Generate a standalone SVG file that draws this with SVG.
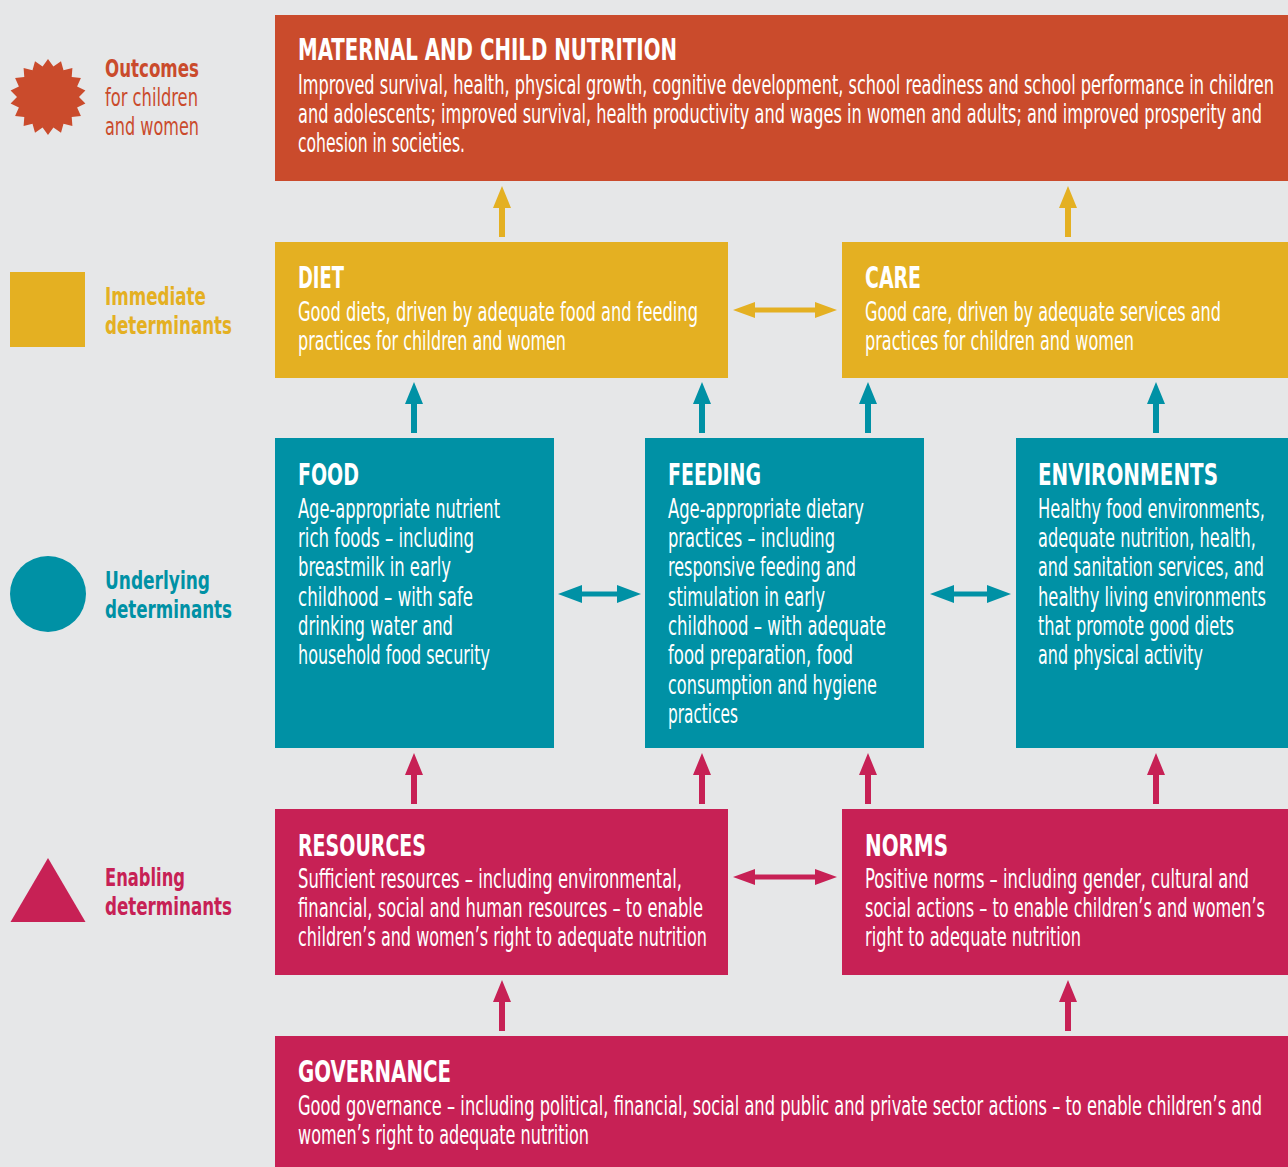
<svg xmlns="http://www.w3.org/2000/svg" xmlns:xlink="http://www.w3.org/1999/xlink" width="1288" height="1167" viewBox="0 0 1288 1167">
<style>
text{font-family:"Liberation Sans Narrow","DejaVu Sans Condensed","Liberation Sans",sans-serif;}
.t{font-size:30px;font-weight:bold;fill:#fff;}
.b{font-size:26px;fill:#fff;}
.lg{font-size:25px;}
.lb{font-weight:bold;}
.or{fill:#ca4b2c;}
.ye{fill:#e4b022;}
.te{fill:#0091a5;}
.ma{fill:#c72155;}
</style>
<defs>
<path id="up" d="M0,0 L9,22 L3,22 L3,51 L-3,51 L-3,22 L-9,22 Z"/>
</defs>
<rect width="1288" height="1167" fill="#e6e7e8"/>

<g id="legend">
<polygon class="or" points="48,59 53.4,66.5 61,61.3 63.5,70.2 72.4,67.9 71.7,77.1 80.9,78 77.1,86.4 85.4,90.4 79,97 85.4,103.6 77.1,107.6 80.9,116 71.7,116.9 72.4,126.1 63.5,123.8 61,132.7 53.4,127.5 48,135 42.6,127.5 35,132.7 32.5,123.8 23.6,126.1 24.3,116.9 15.1,116 18.9,107.6 10.6,103.6 17,97 10.6,90.4 18.9,86.4 15.1,78 24.3,77.1 23.6,67.9 32.5,70.2 35,61.3 42.6,66.5"/>
<text class="lg lb or" x="105" y="77" textLength="94" lengthAdjust="spacingAndGlyphs">Outcomes</text>
<text class="lg or" x="105" y="106" textLength="93" lengthAdjust="spacingAndGlyphs">for children</text>
<text class="lg or" x="105" y="135" textLength="94" lengthAdjust="spacingAndGlyphs">and women</text>
<rect class="ye" x="10" y="272" width="75" height="75"/>
<text class="lg lb ye" x="105" y="305" textLength="101" lengthAdjust="spacingAndGlyphs">Immediate</text>
<text class="lg lb ye" x="105" y="334" textLength="127" lengthAdjust="spacingAndGlyphs">determinants</text>
<circle class="te" cx="48" cy="594" r="38"/>
<text class="lg lb te" x="105" y="589" textLength="105" lengthAdjust="spacingAndGlyphs">Underlying</text>
<text class="lg lb te" x="105" y="618" textLength="127" lengthAdjust="spacingAndGlyphs">determinants</text>
<polygon class="ma" points="48,858 85.5,922 10.5,922"/>
<text class="lg lb ma" x="105" y="886" textLength="80" lengthAdjust="spacingAndGlyphs">Enabling</text>
<text class="lg lb ma" x="105" y="915" textLength="127" lengthAdjust="spacingAndGlyphs">determinants</text>
</g>

<g id="maternal">
<rect class="or" x="275" y="15" width="1013" height="166"/>
<text class="t" x="298" y="60" textLength="379" lengthAdjust="spacingAndGlyphs">MATERNAL AND CHILD NUTRITION</text>
<text class="b" x="298" y="94" textLength="976" lengthAdjust="spacingAndGlyphs">Improved survival, health, physical growth, cognitive development, school readiness and school performance in children</text>
<text class="b" x="298" y="123" textLength="964" lengthAdjust="spacingAndGlyphs">and adolescents; improved survival, health productivity and wages in women and adults; and improved prosperity and</text>
<text class="b" x="298" y="152" textLength="167" lengthAdjust="spacingAndGlyphs">cohesion in societies.</text>
</g>

<g id="diet">
<rect class="ye" x="275" y="242" width="453" height="136"/>
<text class="t" x="298" y="288" textLength="46" lengthAdjust="spacingAndGlyphs">DIET</text>
<text class="b" x="298" y="321" textLength="400" lengthAdjust="spacingAndGlyphs">Good diets, driven by adequate food and feeding</text>
<text class="b" x="298" y="350" textLength="268" lengthAdjust="spacingAndGlyphs">practices for children and women</text>
</g>

<g id="care">
<rect class="ye" x="842" y="242" width="446" height="136"/>
<text class="t" x="865" y="288" textLength="56" lengthAdjust="spacingAndGlyphs">CARE</text>
<text class="b" x="865" y="321" textLength="356" lengthAdjust="spacingAndGlyphs">Good care, driven by adequate services and</text>
<text class="b" x="865" y="350" textLength="269" lengthAdjust="spacingAndGlyphs">practices for children and women</text>
</g>

<g id="food">
<rect class="te" x="275" y="438" width="279" height="310"/>
<text class="t" x="298" y="485" textLength="61" lengthAdjust="spacingAndGlyphs">FOOD</text>
<text class="b" x="298" y="518" textLength="202" lengthAdjust="spacingAndGlyphs">Age-appropriate nutrient</text>
<text class="b" x="298" y="547" textLength="176" lengthAdjust="spacingAndGlyphs">rich foods – including</text>
<text class="b" x="298" y="576" textLength="153" lengthAdjust="spacingAndGlyphs">breastmilk in early</text>
<text class="b" x="298" y="606" textLength="175" lengthAdjust="spacingAndGlyphs">childhood – with safe</text>
<text class="b" x="298" y="635" textLength="155" lengthAdjust="spacingAndGlyphs">drinking water and</text>
<text class="b" x="298" y="664" textLength="192" lengthAdjust="spacingAndGlyphs">household food security</text>
</g>

<g id="feeding">
<rect class="te" x="645" y="438" width="279" height="310"/>
<text class="t" x="668" y="485" textLength="93" lengthAdjust="spacingAndGlyphs">FEEDING</text>
<text class="b" x="668" y="518" textLength="196" lengthAdjust="spacingAndGlyphs">Age-appropriate dietary</text>
<text class="b" x="668" y="547" textLength="167" lengthAdjust="spacingAndGlyphs">practices – including</text>
<text class="b" x="668" y="576" textLength="188" lengthAdjust="spacingAndGlyphs">responsive feeding and</text>
<text class="b" x="668" y="606" textLength="157" lengthAdjust="spacingAndGlyphs">stimulation in early</text>
<text class="b" x="668" y="635" textLength="218" lengthAdjust="spacingAndGlyphs">childhood – with adequate</text>
<text class="b" x="668" y="664" textLength="185" lengthAdjust="spacingAndGlyphs">food preparation, food</text>
<text class="b" x="668" y="694" textLength="209" lengthAdjust="spacingAndGlyphs">consumption and hygiene</text>
<text class="b" x="668" y="723" textLength="70" lengthAdjust="spacingAndGlyphs">practices</text>
</g>

<g id="environments">
<rect class="te" x="1016" y="438" width="272" height="310"/>
<text class="t" x="1038" y="485" textLength="180" lengthAdjust="spacingAndGlyphs">ENVIRONMENTS</text>
<text class="b" x="1038" y="518" textLength="227" lengthAdjust="spacingAndGlyphs">Healthy food environments,</text>
<text class="b" x="1038" y="547" textLength="218" lengthAdjust="spacingAndGlyphs">adequate nutrition, health,</text>
<text class="b" x="1038" y="576" textLength="226" lengthAdjust="spacingAndGlyphs">and sanitation services, and</text>
<text class="b" x="1038" y="606" textLength="228" lengthAdjust="spacingAndGlyphs">healthy living environments</text>
<text class="b" x="1038" y="635" textLength="196" lengthAdjust="spacingAndGlyphs">that promote good diets</text>
<text class="b" x="1038" y="664" textLength="165" lengthAdjust="spacingAndGlyphs">and physical activity</text>
</g>

<g id="resources">
<rect class="ma" x="275" y="809" width="453" height="166"/>
<text class="t" x="298" y="856" textLength="128" lengthAdjust="spacingAndGlyphs">RESOURCES</text>
<text class="b" x="298" y="888" textLength="384" lengthAdjust="spacingAndGlyphs">Sufficient resources – including environmental,</text>
<text class="b" x="298" y="917" textLength="405" lengthAdjust="spacingAndGlyphs">financial, social and human resources – to enable</text>
<text class="b" x="298" y="946" textLength="409" lengthAdjust="spacingAndGlyphs">children’s and women’s right to adequate nutrition</text>
</g>

<g id="norms">
<rect class="ma" x="842" y="809" width="446" height="166"/>
<text class="t" x="865" y="856" textLength="83" lengthAdjust="spacingAndGlyphs">NORMS</text>
<text class="b" x="865" y="888" textLength="384" lengthAdjust="spacingAndGlyphs">Positive norms – including gender, cultural and</text>
<text class="b" x="865" y="917" textLength="400" lengthAdjust="spacingAndGlyphs">social actions – to enable children’s and women’s</text>
<text class="b" x="865" y="946" textLength="216" lengthAdjust="spacingAndGlyphs">right to adequate nutrition</text>
</g>

<g id="governance">
<rect class="ma" x="275" y="1036" width="1013" height="131"/>
<text class="t" x="298" y="1082" textLength="153" lengthAdjust="spacingAndGlyphs">GOVERNANCE</text>
<text class="b" x="298" y="1115" textLength="964" lengthAdjust="spacingAndGlyphs">Good governance – including political, financial, social and public and private sector actions – to enable children’s and</text>
<text class="b" x="298" y="1144" textLength="291" lengthAdjust="spacingAndGlyphs">women’s right to adequate nutrition</text>
</g>

<g id="connectors">
<use xlink:href="#up" class="ye" x="502" y="186"/>
<use xlink:href="#up" class="ye" x="1068" y="186"/>
<path class="ye" d="M733,310 L755,302 L755,307.5 L815,307.5 L815,302 L837,310 L815,318 L815,312.5 L755,312.5 L755,318 Z"/>
<use xlink:href="#up" class="te" x="414" y="382"/>
<use xlink:href="#up" class="te" x="702" y="382"/>
<use xlink:href="#up" class="te" x="868" y="382"/>
<use xlink:href="#up" class="te" x="1156" y="382"/>
<path class="te" d="M558,594 L582,585 L582,591.5 L617,591.5 L617,585 L641,594 L617,603 L617,596.5 L582,596.5 L582,603 Z"/>
<path class="te" d="M930,594 L954,585 L954,591.5 L987,591.5 L987,585 L1011,594 L987,603 L987,596.5 L954,596.5 L954,603 Z"/>
<use xlink:href="#up" class="ma" x="414" y="753"/>
<use xlink:href="#up" class="ma" x="702" y="753"/>
<use xlink:href="#up" class="ma" x="868" y="753"/>
<use xlink:href="#up" class="ma" x="1156" y="753"/>
<path class="ma" d="M733,877 L755,869 L755,874.5 L815,874.5 L815,869 L837,877 L815,885 L815,879.5 L755,879.5 L755,885 Z"/>
<use xlink:href="#up" class="ma" x="502" y="980"/>
<use xlink:href="#up" class="ma" x="1068" y="980"/>
</g>
</svg>
